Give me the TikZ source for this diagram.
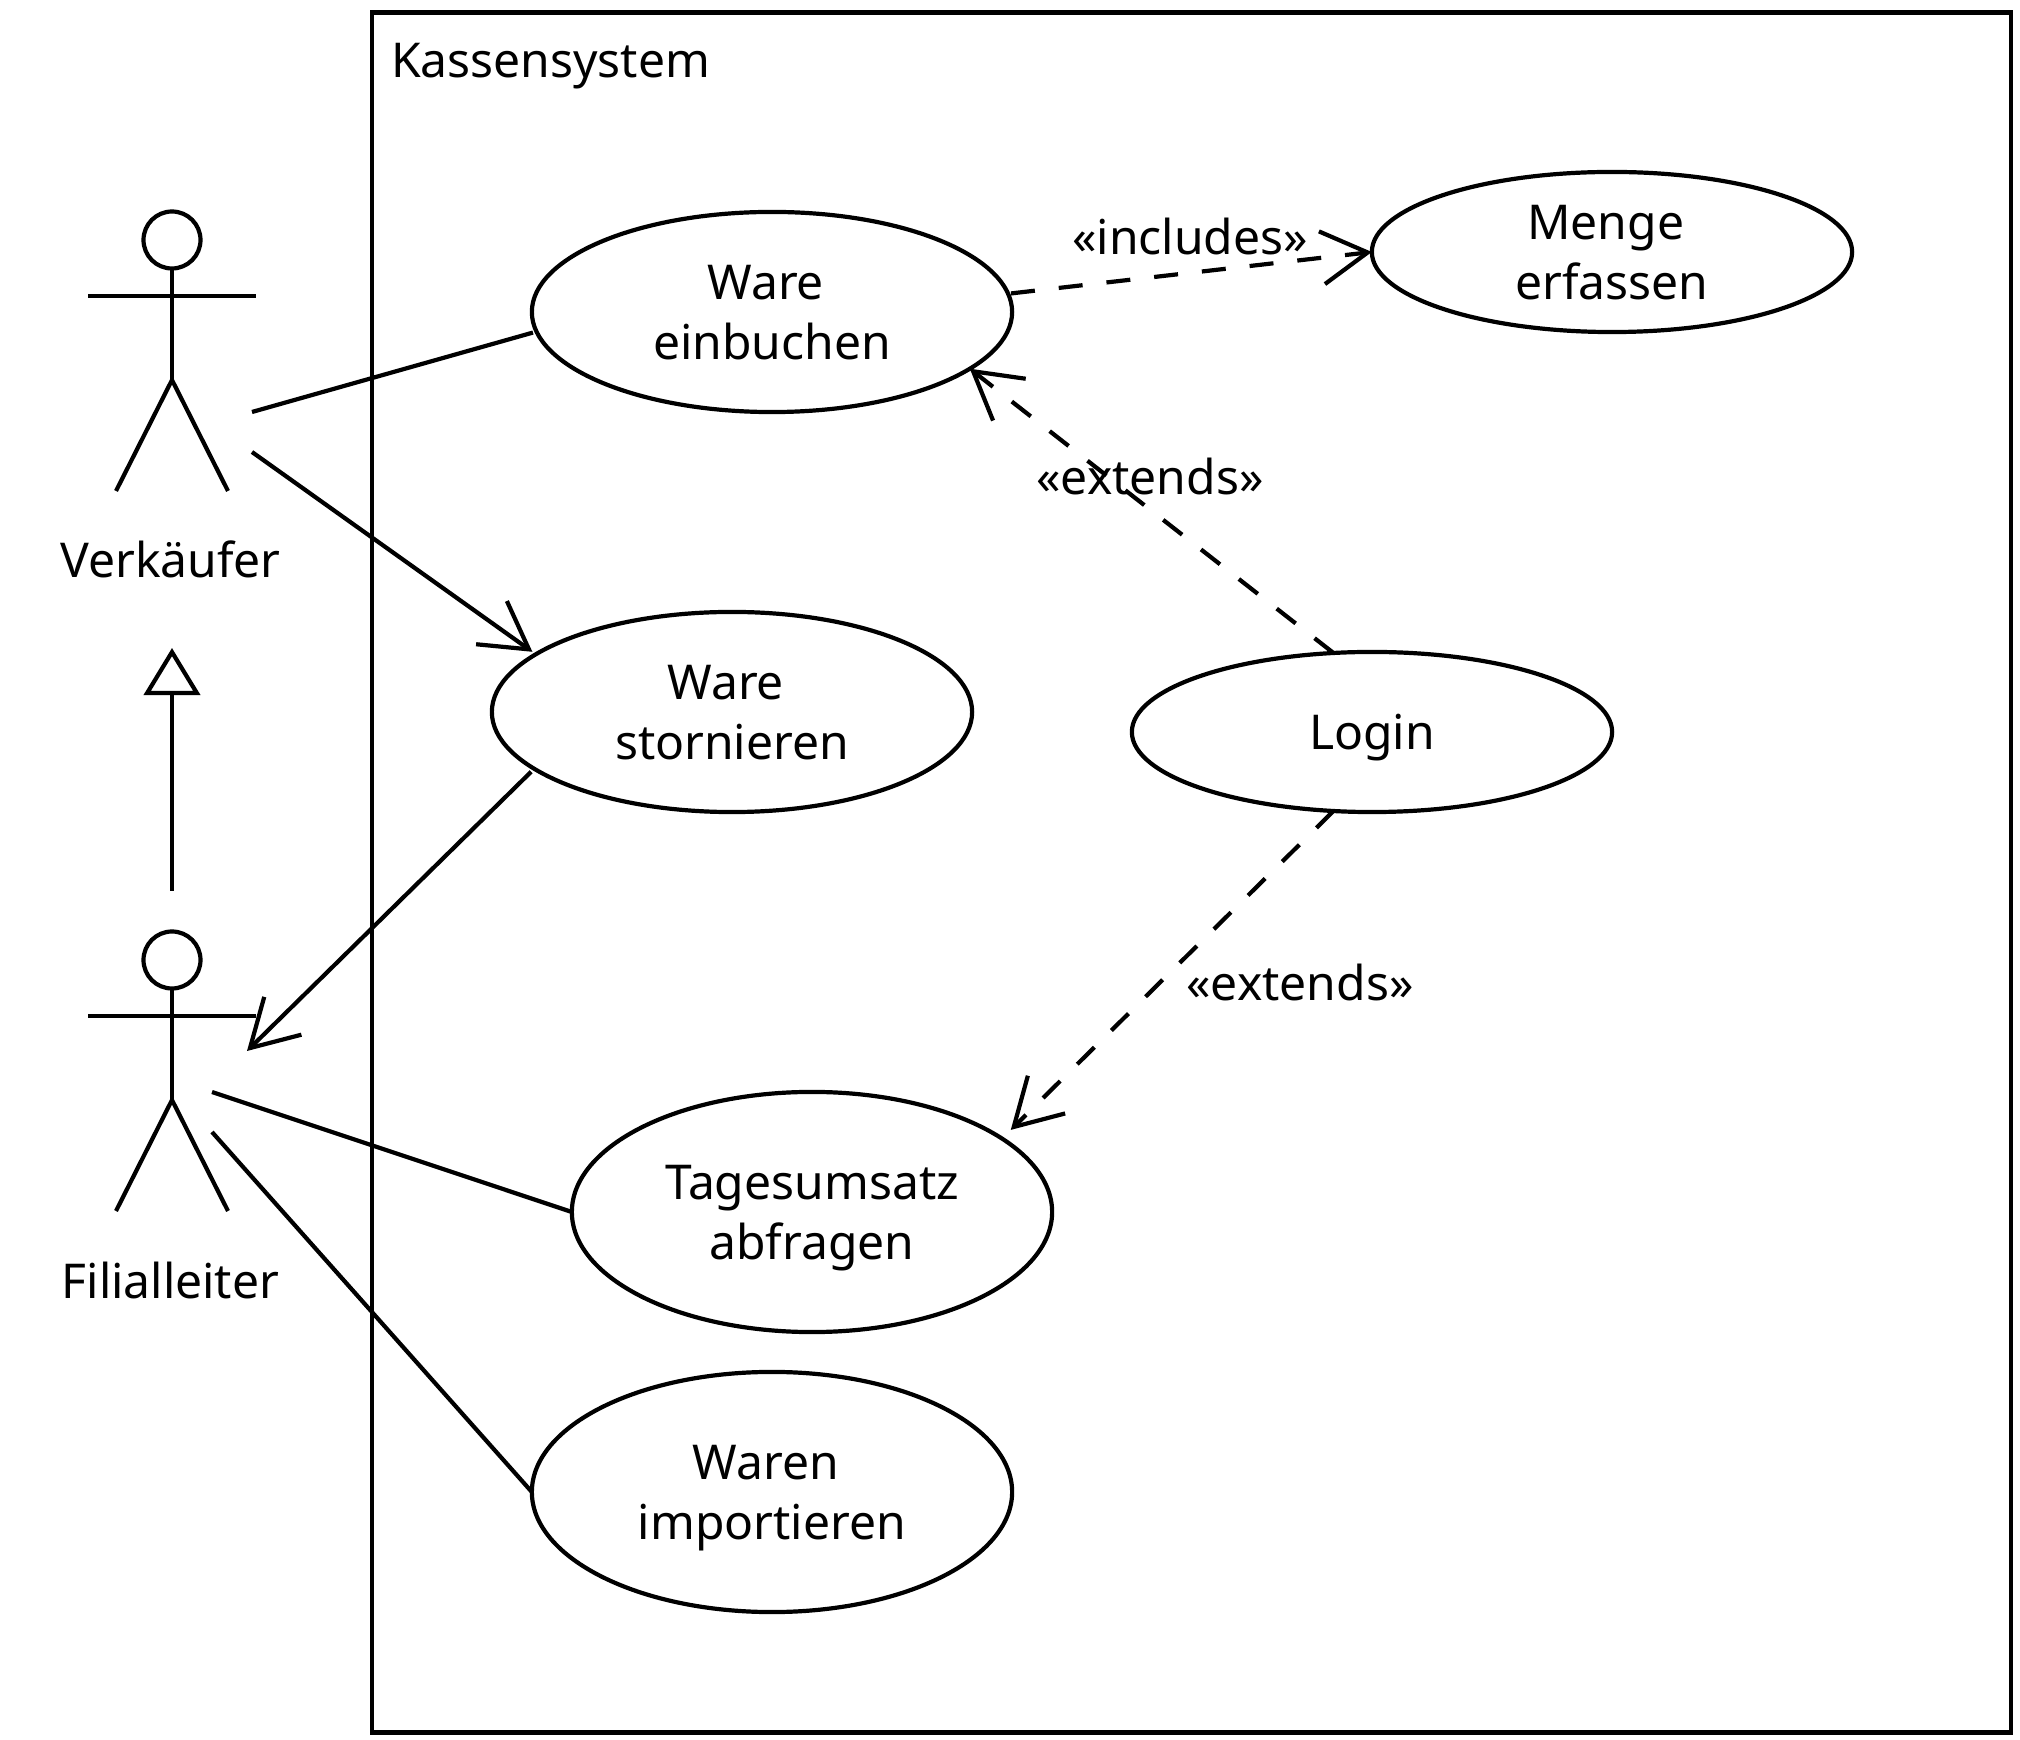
\documentclass[tikz,border=0pt]{standalone}
\usepackage{fontspec}
\setmainfont{Noto Sans}
\usetikzlibrary{arrows.meta,shapes.geometric,calc}
\tikzset{
  ink/.style={line width=0.042cm,black},
  uc/.style={ink,draw,shape=ellipse,minimum width=4.8cm,inner sep=0pt,outer sep=0pt,align=center,text depth=0pt,font=\fontsize{13.65pt}{17.07pt}\selectfont,text=black},
  lbl/.style={anchor=base,inner sep=0pt,outer sep=0pt,font=\fontsize{13.65pt}{17.07pt}\selectfont,text=black},
  assoc/.style={ink},
  open/.style={ink,-{Straight Barb[length=0.46cm,width=0.53cm,line width=0.042cm]}},
  depend/.style={open,dash pattern=on 0.24cm off 0.24cm},
  gener/.style={ink,-{Triangle[open,length=0.47cm,width=0.56cm,line width=0.042cm,fill=white]}},
  actor/.pic={
    \draw[ink] (0,0) circle [radius=28.5];
    \draw[ink] (0,28.5) -- (0,140);
    \draw[ink] (-84,56) -- (84,56);
    \draw[ink] (-56,251) -- (0,140) -- (56,251);
  }
}
\begin{document}
\begin{tikzpicture}[x=0.01cm,y=-0.01cm]
\useasboundingbox (0,0) rectangle (2020,1740);
\draw[ink] (372,12.5) rectangle (2011,1732.5);
\node[lbl,anchor=base west] (title) at (391,78) {Kassensystem};

\pic at (172,240) {actor};
\pic at (172,960) {actor};
\node[lbl] (verk) at (170.5,578) {Verkäufer};
\node[lbl] (fili) at (170.5,1298) {Filialleiter};

\node[uc,minimum height=2cm] (einb) at (772,312) {Ware\ \mbox{}\\einbuchen};
\node[uc,minimum height=1.6cm] (meng) at (1612,252) {Menge\ \mbox{}\\erfassen};
\node[uc,minimum height=2cm] (stor) at (732,712) {Ware\ \mbox{}\\stornieren};
\node[uc,minimum height=1.6cm] (logi) at (1372,732) {Login};
\node[uc,minimum height=2.4cm] (tage) at (812,1212) {Tagesumsatz\\abfragen};
\node[uc,minimum height=2.4cm] (impo) at (772,1492) {Waren\ \mbox{}\\importieren};

\coordinate (v1) at (252,412);
\coordinate (v2) at (252,452);
\coordinate (f0) at (247,1051);
\coordinate (f1) at (212,1092);
\coordinate (f2) at (212,1132);
\coordinate (g0) at (172,891);
\coordinate (g1) at (172,648);

\draw[assoc] (v1) -- ([shift={(-4,0)}]einb.185);
\draw[open] (v2) -- ([shift={(-6,-1)}]stor.163);
\draw[open] ([shift={(-3,3)}]stor.196) -- (f0);
\draw[assoc] (f1) -- (tage.west);
\draw[assoc] (f2) -- (impo.west);
\draw[gener] (g0) -- (g1);
\draw[depend] ([shift={(4,2)}]einb.5) -- (meng.west);
\draw[depend] (logi.116) -- (einb.344);
\draw[depend] (logi.244) -- ([shift={(1,-14)}]tage.19);

\node[lbl] (inc) at (1190,255) {«includes»};
\node[lbl] (ex1) at (1150,495) {«extends»};
\node[lbl] (ex2) at (1300,1001) {«extends»};
\end{tikzpicture}
\end{document}
